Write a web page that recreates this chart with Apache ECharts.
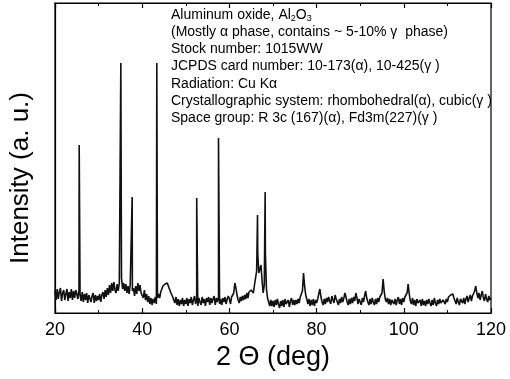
<!DOCTYPE html>
<html>
<head>
<meta charset="utf-8">
<script src="https://cdn.jsdelivr.net/npm/echarts@6/dist/echarts.min.js"></script>
<style>
  html, body { margin: 0; padding: 0; background: #fff; }
  #xrd { width: 510px; height: 379px; }
</style>
</head>
<body>
<div id="xrd"></div>
<script>
// background counts, one value every 0.25 deg starting at 20 deg
let bg20 = [22, 13, 24, 14, 21, 25, 12, 20, 23, 13, 19, 24, 12, 21, 15, 24, 13, 22, 15, 23,
    19, 14, 23, 18, 12, 21, 11, 19, 13, 20, 10, 18, 19, 11, 17, 20, 10, 18, 12, 17];
let bg30 = [13, 19, 11, 18, 21, 14, 23, 16, 25, 18, 28, 20, 30, 22, 31, 23, 20, 29, 22, 30,
    31, 35, 24, 30, 22, 29, 20, 27, 19, 28, 29, 22, 25, 17, 27, 19, 30, 22, 28, 20];
let bg40 = [22, 15, 23, 13, 19, 11, 17, 9, 15, 8, 14, 10, 16, 9, 15, 19, 15, 21, 24, 27,
    25, 29, 31, 30, 27, 25, 21, 19, 16, 13, 10, 16, 8, 14, 7, 13, 9, 15, 7, 13];
let bg50 = [9, 15, 7, 14, 10, 16, 8, 13, 17, 9, 14, 7, 15, 11, 8, 16, 10, 14, 7, 15,
    11, 16, 8, 15, 10, 14, 17, 8, 15, 11, 16, 9, 14, 8, 15, 11, 16, 9, 14, 17];
let bg60 = [14, 9, 16, 14, 20, 30, 25, 18, 13, 10, 16, 12, 17, 13, 18, 14, 20, 15, 21, 19,
    23, 25, 20, 28, 30, 42, 60, 40, 44, 48, 32, 20, 28, 60, 24, 15, 11, 7, 13, 7];
let bg70 = [12, 6, 13, 8, 14, 9, 5, 12, 7, 13, 6, 14, 9, 7, 13, 6, 12, 15, 8, 13,
    8, 13, 9, 14, 10, 16, 14, 22, 40, 27, 18, 14, 9, 14, 7, 13, 8, 14, 7, 13];
let bg80 = [10, 14, 16, 24, 16, 11, 8, 14, 9, 15, 11, 16, 12, 9, 17, 13, 10, 18, 14, 11,
    8, 14, 10, 16, 11, 15, 20, 16, 11, 8, 14, 9, 15, 10, 16, 12, 20, 15, 9, 14];
let bg90 = [13, 8, 15, 11, 17, 22, 15, 11, 8, 14, 9, 15, 11, 8, 14, 9, 15, 11, 16, 18,
    20, 34, 22, 14, 11, 15, 9, 14, 8, 13, 15, 9, 14, 8, 13, 16, 9, 14, 8, 15];
let bg100 = [11, 16, 14, 20, 29, 19, 12, 9, 15, 8, 13, 7, 14, 10, 8, 13, 7, 14, 8, 12,
    7, 13, 9, 14, 10, 7, 13, 8, 15, 10, 7, 13, 9, 14, 10, 8, 13, 15, 9, 14];
let bg110 = [11, 16, 14, 18, 16, 19, 15, 12, 9, 15, 11, 8, 14, 16, 10, 15, 9, 14, 17, 11,
    15, 18, 12, 17, 18, 22, 27, 20, 15, 20, 13, 18, 22, 15, 12, 19, 14, 11, 17, 13, 15];

// sharp reflections
let peakPos = [25.55, 35.1, 37.7, 43.35, 52.5, 57.5, 66.45, 68.2];
let peakHeight = [168, 250, 116, 250, 115, 175, 98, 121];

let xTicks = [20, 40, 60, 80, 100, 120];

let noteLines = [
    'Aluminum oxide, Al{sub|2}O{sub|3}',
    '(Mostly \u03b1 phase, contains ~ 5-10% \u03b3  phase)',
    'Stock number: 1015WW',
    'JCPDS card number: 10-173(\u03b1), 10-425(\u03b3 )',
    'Radiation: Cu K\u03b1',
    'Crystallographic system: rhombohedral(\u03b1), cubic(\u03b3 )',
    'Space group: R 3c (167)(\u03b1), Fd3m(227)(\u03b3 )'
];

(function () {
    let chart = echarts.init(document.getElementById('xrd'));

    let bg = [].concat(bg20, bg30, bg40, bg50, bg60, bg70, bg80, bg90, bg100, bg110);
    let pts = bg.map(function (v, i) {
        return [20 + i * 0.25, v];
    });
    peakPos.forEach(function (p, i) {
        pts.push([p, peakHeight[i]]);
    });
    pts.sort(function (a, b) { return a[0] - b[0]; });

    let font = 'Liberation Sans, Arial, sans-serif';

    let xBase = {
        type: 'value',
        min: xTicks[0],
        max: xTicks[xTicks.length - 1],
        interval: 20,
        axisLine: { show: true, lineStyle: { color: '#000', width: 1.2 } },
        axisTick: { show: true, inside: true, length: 5, lineStyle: { color: '#000', width: 1.2 } },
        minorTick: { show: true, splitNumber: 2, length: 3, lineStyle: { color: '#000', width: 1 } },
        splitLine: { show: false }
    };

    let option = {
        animation: false,
        backgroundColor: '#fff',
        grid: {
            left: 55, right: 19, top: 3, bottom: 66,
            show: true, borderColor: '#000', borderWidth: 1.2
        },
        xAxis: [
            Object.assign({}, xBase, {
                position: 'bottom',
                name: '2 \u0398 (deg)',
                nameLocation: 'middle',
                nameGap: 27,
                nameTextStyle: { fontFamily: font, fontSize: 27, color: '#000' },
                axisLabel: { show: true, fontFamily: font, fontSize: 18, color: '#000', margin: 8 }
            }),
            Object.assign({}, xBase, {
                position: 'top',
                axisLabel: { show: false }
            })
        ],
        yAxis: {
            type: 'value',
            min: 0,
            max: 310,
            axisLine: { show: true, lineStyle: { color: '#000', width: 1.2 } },
            axisTick: { show: false },
            axisLabel: { show: false },
            splitLine: { show: false }
        },
        graphic: [{
            type: 'text',
            x: 21,
            y: 178,
            rotation: Math.PI / 2,
            style: {
                text: 'Intensity (a. u.)',
                fontFamily: font,
                fontSize: 26,
                fill: '#000',
                align: 'center',
                verticalAlign: 'middle'
            }
        }, {
            type: 'text',
            left: 171,
            top: 6,
            style: {
                text: noteLines.join('\n'),
                fontFamily: font,
                fontSize: 14,
                lineHeight: 17.3,
                fill: '#000',
                rich: {
                    sub: { fontFamily: font, fontSize: 9, lineHeight: 17.3, verticalAlign: 'bottom', padding: [6, 0, 0, 0] }
                }
            }
        }],
        series: [{
            type: 'line',
            data: pts,
            showSymbol: false,
            lineStyle: { color: '#111', width: 1.6 },
            z: 3
        }]
    };

    chart.setOption(option);
})();
</script>
</body>
</html>
